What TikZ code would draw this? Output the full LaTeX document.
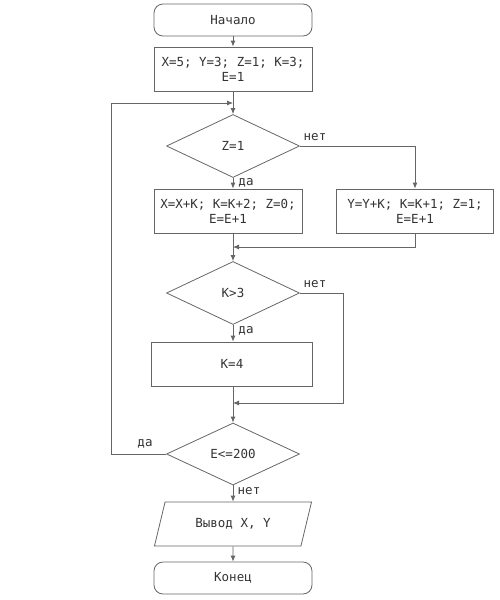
\documentclass[tikz,border=0pt]{standalone}
\usepackage{fontspec}
\setmonofont{DejaVu Sans Mono}
\usetikzlibrary{shapes.geometric,arrows.meta}

\begin{document}
\begin{tikzpicture}[x=1pt,y=-1pt,
  font=\ttfamily\fontsize{12.5}{15}\selectfont,
  every node/.style={text=black!80},
  line/.style={draw=black!60,line width=0.8pt},
  arr/.style={line,-{Latex[length=6pt,width=5pt]}},
  term/.style={line,rounded corners=9pt,minimum width=158pt,minimum height=32pt},
  block/.style={line,minimum height=44pt,align=center,inner sep=0pt},
  test/.style={line,diamond,aspect=2.1,minimum width=133pt,minimum height=63pt,inner sep=0pt},
  io/.style={line,trapezium,trapezium left angle=70,trapezium right angle=110,
    trapezium stretches=true,minimum width=158pt,minimum height=44pt},
  lbl/.style={inner sep=1pt}]
  \useasboundingbox (0,0) rectangle (500,600);

  \node[term] (start) at (233,20) {Начало};
  \node[block,minimum width=158pt] (init) at (233,69) {X=5; Y=3; Z=1; K=3;\\E=1};
  \node[test] (zcheck) at (233,146) {Z=1};
  \node[block,minimum width=148pt] (yes1) at (228,211) {X=X+K; K=K+2; Z=0;\\E=E+1};
  \node[block,minimum width=157pt] (no1) at (415,211) {Y=Y+K; K=K+1; Z=1;\\E=E+1};
  \node[test] (kcheck) at (233,293) {K>3};
  \node[block,minimum width=161pt] (setk) at (232,364) {K=4};
  \node[test,minimum height=62pt] (echeck) at (233,454) {E<=200};
  \node[io] (output) at (233,524) {Вывод X, Y};
  \node[term] (stop) at (233,578) {Конец};

  \coordinate (merge1) at (233,247);
  \coordinate (merge2) at (233,403);
  \coordinate (kright) at (343,403);
  \coordinate (loopleft) at (111,103);
  \coordinate (looptop) at (233,103);

  \draw[arr] (start) -- (init);
  \draw[arr] (init) -- (zcheck);
  \draw[arr] (zcheck) -- (zcheck.south |- yes1.north);
  \draw[arr] (zcheck.east) -| (no1.north);
  \draw[arr] (zcheck.south |- yes1.south) -- (kcheck.north);
  \draw[arr] (no1.south) |- (merge1);
  \draw[arr] (kcheck) -- (kcheck.south |- setk.north);
  \draw[arr] (kcheck.east) -| (kright) -- (merge2);
  \draw[arr] (kcheck.south |- setk.south) -- (echeck.north);
  \draw[arr] (echeck.west) -| (loopleft) -- (looptop);
  \draw[arr] (echeck) -- (output);
  \draw[arr] (output) -- (stop);

  \node[lbl] (zno) at (315,137) {нет};
  \node[lbl] (zyes) at (246,183) {да};
  \node[lbl] (kno) at (315,284) {нет};
  \node[lbl] (kyes) at (246,331) {да};
  \node[lbl] (eyes) at (145,444) {да};
  \node[lbl] (eno) at (249,491) {нет};
\end{tikzpicture}
\end{document}
